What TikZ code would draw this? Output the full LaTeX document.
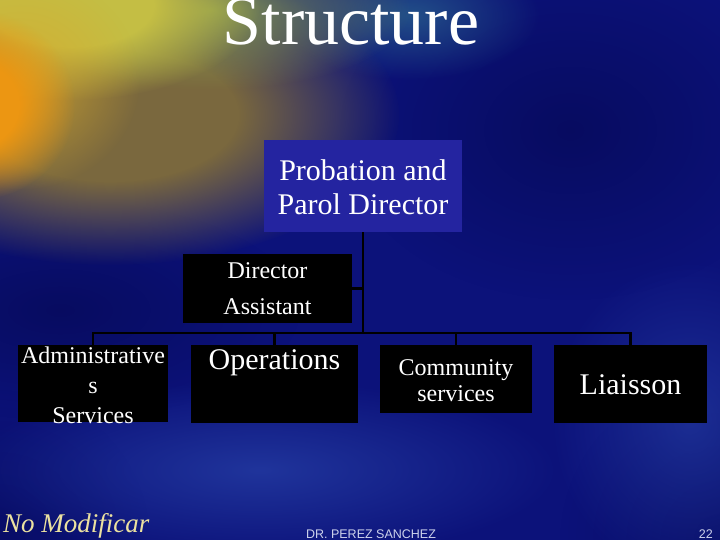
\documentclass[tikz,border=0pt]{standalone}
\usepackage{fontspec}
\setmainfont{Liberation Serif}
\setsansfont{Liberation Sans}
\usetikzlibrary{fadings}
\tikzfading[name=softfade, inner color=transparent!0, outer color=transparent!100]
\pgfdeclareradialshading{plateaushade}{\pgfpointorigin}{color(0bp)=(transparent!0); color(11bp)=(transparent!0); color(25bp)=(transparent!100); color(50bp)=(transparent!100)}
\pgfdeclarefading{plateau}{\pgfuseshading{plateaushade}}
\definecolor{bgblue}{RGB}{12,18,122}
\definecolor{navy}{RGB}{6,10,90}
\definecolor{topblue}{RGB}{36,36,160}
\definecolor{lightblue}{RGB}{45,75,178}
\definecolor{glow}{RGB}{236,150,18}
\definecolor{amber}{RGB}{215,170,45}
\definecolor{olive}{RGB}{122,104,62}
\definecolor{yellowgreen}{RGB}{196,190,68}
\definecolor{greenish}{RGB}{140,160,80}
\definecolor{teal}{RGB}{40,95,140}
\definecolor{footyellow}{RGB}{235,225,160}
\definecolor{footgrey}{RGB}{205,210,235}
\tikzset{
  box/.style={draw=none, fill=black, inner sep=0pt},
  topbox/.style={draw=none, fill=topblue, inner sep=0pt},
  txt/.style={text=white, inner sep=0pt, align=center},
  bigtxt/.style={txt, font=\fontsize{30}{34}\selectfont},
  smalltxt/.style={txt, font=\fontsize{24}{30}\selectfont},
  conn/.style={draw=black, line width=2.6pt},
  foot/.style={text=footgrey, font=\sffamily\fontsize{12.5}{13}\selectfont, inner sep=0pt},
}
\begin{document}
\begin{tikzpicture}[x=1pt, y=-1pt]
\useasboundingbox (0,0) rectangle (720,540);
\begin{scope}
\clip (0,0) rectangle (720,540);
\fill[bgblue] (-10,-10) rectangle (730,550);
\fill[navy, path fading=softfade, opacity=0.8] (570,130) ellipse (230 and 170);
\fill[navy, path fading=softfade, opacity=0.8] (60,310) ellipse (240 and 110);
\fill[navy, path fading=softfade, opacity=0.6] (720,540) circle (160);
\fill[navy, path fading=softfade, opacity=0.6] (0,540) circle (150);
\fill[lightblue, path fading=softfade, opacity=0.6] (260,470) ellipse (300 and 90);
\fill[lightblue, path fading=softfade, opacity=0.5] (690,420) ellipse (140 and 160);
\fill[teal, path fading=softfade, opacity=0.8] (410,15) ellipse (130 and 65);
\fill[olive, path fading=plateau] (110,115) ellipse (290 and 150);
\fill[greenish, path fading=softfade, opacity=0.9] (210,10) ellipse (200 and 80);
\fill[yellowgreen, path fading=plateau] (70,5) ellipse (190 and 95);
\fill[amber, path fading=softfade, opacity=0.8] (20,80) ellipse (120 and 110);
\fill[glow, path fading=plateau] (-25,105) ellipse (100 and 95);
\end{scope}

% title
\node[text=white, font=\fontsize{70}{70}\selectfont, anchor=base, inner sep=0pt] (title) at (351,45) {Structure};

% boxes
\node[topbox, minimum width=198pt, minimum height=92pt] (top) at (363,186) {};
\node[bigtxt] (topt) at (363,187) {Probation and\\Parol Director};

\node[box, minimum width=169pt, minimum height=69pt] (da) at (267.5,288.5) {};
\node[smalltxt, font=\fontsize{24}{36}\selectfont] (dat) at (267.5,289) {Director\\Assistant};

\node[box, minimum width=150pt, minimum height=77pt] (adm) at (93,383.5) {};
\node[smalltxt] (admt) at (93,385) {Administrative\\s\\Services};

\node[box, minimum width=167pt, minimum height=78pt] (ops) at (274.5,384) {};
\node[bigtxt] (opst) at (274.5,363) {Operations};

\node[box, minimum width=152pt, minimum height=68pt] (comm) at (456,379) {};
\node[smalltxt, font=\fontsize{24}{26}\selectfont] (commt) at (456,381) {Community\\services};

\node[box, minimum width=153pt, minimum height=78pt] (liai) at (630.5,384) {};
\node[bigtxt] (liait) at (630.5,385) {Liaisson};

% connectors
\coordinate (bus) at (363,333);
\draw[conn] (top.south) -- (bus);
\draw[conn] (da.east) -- (da.east -| bus);
\draw[conn] (adm.north) |- (bus);
\draw[conn] (liai.north) |- (bus);
\draw[conn] (ops.north) -- (ops.north |- bus);
\draw[conn] (comm.north) -- (comm.north |- bus);

% footer
\node[text=footyellow, font=\itshape\fontsize{27}{27}\selectfont, anchor=base west, inner sep=0pt] (nomod) at (3,532) {No Modificar};
\node[foot, anchor=base] (author) at (371,538) {DR. PEREZ SANCHEZ};
\node[foot, anchor=base east] (page) at (713,538) {22};
\end{tikzpicture}
\end{document}
